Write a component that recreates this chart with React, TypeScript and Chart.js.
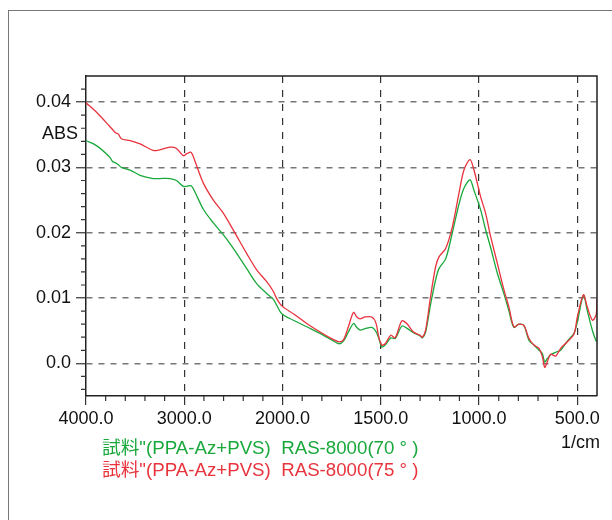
import React, { useEffect, useRef } from 'react';
import { Chart, registerables, LinearScale } from 'chart.js';

// ---------- data ----------
const WAVENUMBERS = [
  4000, 3890, 3760, 3730, 3700, 3670, 3640, 3550, 3450, 3315, 3250, 3145, 3080, 3010, 2975, 2930, 2890,
  2806, 2704, 2603, 2501, 2364, 2263, 2161, 2093, 2059, 2008, 1945, 1877, 1809, 1739, 1712, 1690, 1665,
  1639, 1622, 1606, 1580, 1546, 1525, 1510, 1495, 1478, 1449, 1427, 1393, 1368, 1334, 1300, 1289, 1272,
  1247, 1221, 1204, 1170, 1136, 1102, 1077, 1046, 1026, 992, 967, 941, 907, 873, 848, 823, 797, 772, 746,
  721, 695, 678, 666, 653, 636, 610, 585, 551, 517, 500, 469, 449, 423, 404, 400,
];

const ABS_70 = [
  0.0341, 0.0333, 0.0316, 0.0309, 0.0307, 0.0304, 0.0300, 0.0296, 0.0288, 0.0283, 0.0283, 0.0283, 0.0280,
  0.0271, 0.0271, 0.0272, 0.0262, 0.0236, 0.0215, 0.0197, 0.0176, 0.0145, 0.0122, 0.0107, 0.0098, 0.0089,
  0.0076, 0.0066, 0.0056, 0.0046, 0.0034, 0.0030, 0.0034, 0.0048, 0.0061, 0.0055, 0.0051, 0.0053, 0.0055,
  0.0049, 0.0038, 0.0025, 0.0028, 0.0039, 0.0038, 0.0057, 0.0054, 0.0047, 0.0042, 0.0039, 0.0048, 0.0090,
  0.0128, 0.0145, 0.0160, 0.0200, 0.0244, 0.0268, 0.0281, 0.0265, 0.0235, 0.0205, 0.0177, 0.0138, 0.0106,
  0.0080, 0.0055, 0.0060, 0.0058, 0.0035, 0.0028, 0.0020, 0.0015, 0.0002, 0.0007, 0.0013, 0.0017, 0.0020,
  0.0034, 0.0046, 0.0063, 0.0104, 0.0080, 0.0050, 0.0034, 0.0035,
];

const ABS_75 = [
  0.0399, 0.0384, 0.0363, 0.0358, 0.0353, 0.0351, 0.0344, 0.0341, 0.0336, 0.0326, 0.0327, 0.0331, 0.0329,
  0.0318, 0.0321, 0.0323, 0.0309, 0.0276, 0.0250, 0.0230, 0.0204, 0.0168, 0.0143, 0.0125, 0.0110, 0.0099,
  0.0088, 0.0076, 0.0061, 0.0048, 0.0036, 0.0033, 0.0036, 0.0056, 0.0078, 0.0071, 0.0068, 0.0071, 0.0071,
  0.0062, 0.0040, 0.0028, 0.0030, 0.0043, 0.0039, 0.0065, 0.0061, 0.0048, 0.0043, 0.0040, 0.0051, 0.0102,
  0.0148, 0.0163, 0.0176, 0.0209, 0.0261, 0.0296, 0.0312, 0.0296, 0.0255, 0.0230, 0.0194, 0.0153, 0.0112,
  0.0086, 0.0056, 0.0060, 0.0058, 0.0038, 0.0028, 0.0023, 0.0010, -0.0006, 0.0002, 0.0014, 0.0011, 0.0023,
  0.0033, 0.0045, 0.0071, 0.0105, 0.0086, 0.0066, 0.0075, 0.0099,
];

const LABEL_70 = '試料"(PPA-Az+PVS)  RAS-8000(70 ° )';
const LABEL_75 = '試料"(PPA-Az+PVS)  RAS-8000(75 ° )';

const X_MAJOR_TICKS = [4000, 3000, 2000, 1500, 1000, 500];
const X_MINOR_TICKS = [3800, 3600, 3400, 3200, 2800, 2600, 2400, 2200, 1900, 1800, 1700, 1600, 1400, 1300, 1200, 1100, 900, 800, 700, 600];
const Y_MAJOR_TICKS = [0, 0.01, 0.02, 0.03, 0.04];
const Y_MINOR_TICKS = [-0.004, -0.002, 0.002, 0.004, 0.006, 0.008, 0.012, 0.014, 0.016, 0.018, 0.022, 0.024, 0.026, 0.028, 0.032, 0.034, 0.036, 0.038, 0.042];

const X_MIN = 400;
const X_MAX = 4000;
const X_BREAK = 2000;
const Y_MIN = -0.005;
const Y_MAX = 0.044;

const GREEN = '#19a83c';
const RED = '#e8333d';
const FONT = '"Liberation Sans", Arial, "Noto Sans CJK JP", sans-serif';

// ---------- split wavenumber scale (4000-2000 at half scale) ----------
function toPos(w: number): number {
  return w >= X_BREAK ? (X_MAX - w) / 2 : (X_MAX - X_BREAK) / 2 + (X_BREAK - w);
}
function fromPos(p: number): number {
  const b = (X_MAX - X_BREAK) / 2;
  return p <= b ? X_MAX - 2 * p : X_BREAK - (p - b);
}

class SplitWaveScale extends LinearScale {
  static id = 'splitWave';
  static defaults = {};
  buildTicks() {
    (this as any).start = this.min;
    (this as any).end = this.max;
    return X_MAJOR_TICKS.map((v) => ({ value: v }));
  }
  getPixelForValue(value: number) {
    const p0 = toPos(this.max);
    const p1 = toPos(this.min);
    return this.getPixelForDecimal((toPos(value) - p0) / (p1 - p0));
  }
  getValueForPixel(pixel: number) {
    const p0 = toPos(this.max);
    const p1 = toPos(this.min);
    return fromPos(p0 + this.getDecimalForPixel(pixel) * (p1 - p0));
  }
}

Chart.register(...registerables, SplitWaveScale);

const decorPlugin = {
  id: 'decor',
  afterDraw(chart: any) {
    const { ctx, chartArea: a, scales } = chart;
    const xs = scales.x;
    const ys = scales.y;
    ctx.save();
    // top and right frame of plot box
    ctx.strokeStyle = '#222';
    ctx.lineWidth = 1.5;
    ctx.beginPath();
    ctx.moveTo(a.left, a.top);
    ctx.lineTo(a.right, a.top);
    ctx.lineTo(a.right, a.bottom);
    ctx.stroke();
    // minor ticks
    ctx.lineWidth = 1.2;
    ctx.strokeStyle = '#333';
    ctx.beginPath();
    for (const v of X_MINOR_TICKS) {
      const px = xs.getPixelForValue(v);
      ctx.moveTo(px, a.bottom);
      ctx.lineTo(px, a.bottom + 5);
    }
    for (const v of Y_MINOR_TICKS) {
      const py = ys.getPixelForValue(v);
      ctx.moveTo(a.left, py);
      ctx.lineTo(a.left - 5, py);
    }
    ctx.stroke();
    // texts
    ctx.font = `18px ${FONT}`;
    ctx.fillStyle = '#111';
    ctx.textBaseline = 'middle';
    ctx.textAlign = 'right';
    ctx.fillText('ABS', a.left - 8, a.top + 58);
    ctx.fillText('1/cm', a.right + 3, a.bottom + 47);
    ctx.textAlign = 'left';
    ctx.font = `18.7px ${FONT}`;
    chart.data.datasets.forEach((ds: any, i: number) => {
      ctx.fillStyle = ds.borderColor;
      ctx.fillText(ds.label, a.left + 16, a.bottom + 53 + i * 22);
    });
    ctx.restore();
  },
};

export default function App() {
  const canvasRef = useRef<HTMLCanvasElement | null>(null);

  useEffect(() => {
    if (!canvasRef.current) return;
    const chart = new Chart(canvasRef.current, {
      type: 'line',
      data: {
        datasets: [
          {
            label: LABEL_70,
            data: WAVENUMBERS.map((w, i) => ({ x: w, y: ABS_70[i] })),
            borderColor: GREEN,
            borderWidth: 1.3,
            pointRadius: 0,
            tension: 0.3,
            order: 1,
          },
          {
            label: LABEL_75,
            data: WAVENUMBERS.map((w, i) => ({ x: w, y: ABS_75[i] })),
            borderColor: RED,
            borderWidth: 1.3,
            pointRadius: 0,
            tension: 0.3,
            order: 0,
          },
        ],
      },
      options: {
        animation: false,
        responsive: true,
        maintainAspectRatio: false,
        layout: { padding: { left: 0, right: 15, top: 76, bottom: 0 } },
        plugins: { legend: { display: false }, tooltip: { enabled: false }, title: { display: false } },
        scales: {
          x: {
            type: 'splitWave' as any,
            min: X_MIN,
            max: X_MAX,
            afterFit: (s: any) => { s.height = 124; },
            border: { display: true, color: '#222', width: 1.5, dash: [7, 7] },
            grid: {
              display: true,
              drawOnChartArea: true,
              drawTicks: true,
              tickLength: 9,
              color: (c: any) => (c.tick && c.tick.value === X_MAX ? 'rgba(0,0,0,0)' : '#333'),
              lineWidth: 1.2,
              tickColor: '#333',
              tickWidth: 1.2,
            },
            ticks: {
              autoSkip: false,
              maxRotation: 0,
              padding: 3,
              color: '#111',
              font: { family: FONT, size: 18 },
              callback: (v: any) => Number(v).toFixed(1),
            },
          } as any,
          y: {
            type: 'linear',
            min: Y_MIN,
            max: Y_MAX,
            afterFit: (s: any) => { s.width = 86; },
            afterBuildTicks: (s: any) => { s.ticks = Y_MAJOR_TICKS.map((v) => ({ value: v })); },
            border: { display: true, color: '#222', width: 1.5, dash: [6, 6] },
            grid: {
              display: true,
              drawOnChartArea: true,
              drawTicks: true,
              tickLength: 10,
              color: '#777',
              lineWidth: 1.5,
              tickColor: '#333',
              tickWidth: 1.2,
            },
            ticks: {
              padding: 5,
              color: '#111',
              font: { family: FONT, size: 18 },
              callback: (v: any) => (Number(v) === 0 ? '0.0' : Number(v).toFixed(2)),
            },
          },
        },
      },
      plugins: [decorPlugin],
    });
    return () => chart.destroy();
  }, []);

  return (
    <div style={{ position: 'fixed', left: 0, top: 0, width: 612, height: 520, overflow: 'hidden', background: '#fff' }}>
      <div style={{ position: 'absolute', left: 8, top: 10, width: 640, height: 560, border: '1.5px solid #777', boxSizing: 'border-box' }} />
      <div style={{ position: 'absolute', left: 0, top: 0, width: 612, height: 520 }}>
        <canvas ref={canvasRef} />
      </div>
    </div>
  );
}
